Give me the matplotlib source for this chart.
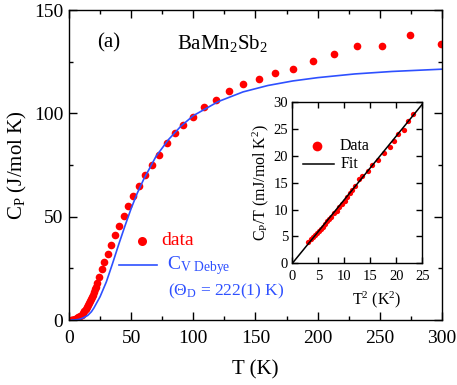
import numpy as np
import matplotlib
matplotlib.use('Agg')
import matplotlib.pyplot as plt
from matplotlib.ticker import MultipleLocator

plt.rcParams['font.family'] = ['Liberation Serif', 'DejaVu Serif']
plt.rcParams['mathtext.fontset'] = 'stix'
plt.rcParams['mathtext.default'] = 'regular'

# heat capacity data, main panel
T_data = [1.8, 2.2, 2.6, 3.0, 3.5, 4.0, 4.8, 5.5, 6.4, 7.5, 8.8, 10.2, 11.3, 12.3,
          13.4, 14.5, 15.3, 16.1, 16.9, 17.7, 18.5, 19.3, 20.1, 20.9, 21.7, 22.5,
          24.1, 26.2, 28.4, 31.1, 33.8, 37.0, 40.2, 44.0, 47.2, 51.6, 56.6, 61.4,
          66.8, 72.6, 79.0, 85.5, 91.9, 100.0, 109.0, 118.2, 128.6, 140.2, 152.5,
          165.9, 179.8, 195.9, 213.3, 231.8, 251.9, 274.7, 299.6]
Cp_data = [0.0, 0.0, 0.03, 0.05, 0.08, 0.12, 0.3, 0.5, 0.9, 1.3, 1.9, 2.6, 3.4, 4.2,
           5.1, 6.1, 7.1, 8.1, 9.1, 10.1, 11.2, 12.3, 13.5, 14.8, 16.2, 17.7,
           21.0, 24.5, 28.1, 31.9, 36.4, 41.0, 45.5, 50.3, 55.2, 60.0, 64.8, 70.3,
           75.2, 80.0, 85.5, 90.3, 94.2, 98.4, 102.9, 106.5, 110.6, 114.2, 116.6,
           119.4, 121.6, 125.2, 128.7, 132.7, 132.6, 137.9, 133.5]

# Debye curve
T_deb = [2, 5, 8, 10, 12, 15, 18, 20, 25, 30, 35, 40, 45, 50, 55, 60, 70, 80, 90,
         100, 120, 140, 160, 180, 200, 230, 260, 300]
Cv_deb = [0.0, 0.05, 0.3, 0.7, 1.2, 2.2, 4.0, 5.8, 11.3, 18.4, 27.3, 36.6, 45.5,
          54.0, 61.5, 68.0, 79.2, 87.3, 93.8, 98.9, 105.7, 110.4, 113.5, 115.7,
          117.3, 119.1, 120.3, 121.4]

# inset: Cp/T vs T^2
T2_in = [3.08, 3.53, 3.91, 4.30, 4.68, 5.07, 5.45, 5.84, 6.22, 6.73, 7.12, 7.5,
         8.02, 8.53, 9.04, 9.56, 10.07, 10.58, 11.1, 11.48, 12.12, 12.88, 13.4,
         14.5, 15.3, 16.5, 17.7, 18.7, 19.5, 20.3, 21.4, 22.2, 23.3]
CpT_in = [4.02, 4.47, 4.90, 5.33, 5.70, 6.07, 6.45, 6.82, 7.32, 7.93, 8.31, 8.68,
          9.31, 9.8, 10.43, 11.04, 11.66, 12.29, 13.15, 13.65, 14.39, 15.64, 16.3,
          17.2, 18.2, 19.2, 20.5, 21.6, 22.7, 24.1, 24.8, 26.4, 27.7]
T2_fit = [0, 25]
CpT_fit = [0, 29.6]

red = '#ff0000'
blue = '#2e50ff'

fig = plt.figure(figsize=(4.57, 3.85), dpi=100)
ax = fig.add_axes([0.151, 0.1688, 0.816, 0.805])

ax.plot(T_data, Cp_data, 'o', color=red, ms=5.5, mec='none')
ax.plot(T_deb, Cv_deb, '-', color=blue, lw=1.2)

ax.set_xlim(0, 300)
ax.set_ylim(0, 150)
ax.xaxis.set_major_locator(MultipleLocator(50))
ax.xaxis.set_minor_locator(MultipleLocator(25))
ax.yaxis.set_major_locator(MultipleLocator(50))
ax.yaxis.set_minor_locator(MultipleLocator(25))
ax.tick_params(which='both', direction='in', top=True, right=True, width=1)
ax.tick_params(which='major', length=6, labelsize=14)
ax.tick_params(axis='x', which='major', pad=7)
ax.tick_params(axis='y', which='major', pad=4)
ax.tick_params(which='minor', length=3)
for s in ax.spines.values():
    s.set_linewidth(1)
ax.set_xlabel('T (K)', fontsize=15, labelpad=10)
ax.set_ylabel(r'C$_{P}$ (J/mol K)', fontsize=15)

ax.text(32, 134, '(a)', fontsize=15, ha='center', va='center')
ax.text(87, 134, r'BaMn$_{2}$Sb$_{2}$', fontsize=15, ha='left', va='center')

# hand made legend
ax.plot([58.4], [38.4], 'o', color=red, ms=6.5, mec='none')
ax.text(74.5, 38.4, 'data', color=red, fontsize=14, va='center')
ax.plot([40.5, 70.5], [26.6, 26.6], '-', color=blue, lw=1.2)
ax.text(78.5, 26.6, r'C$_{V\ Debye}$', color=blue, fontsize=14, va='center')
ax.text(79.8, 13.7, r'($\Theta_{D}$ = 222(1) K)', color=blue, fontsize=12.5, va='center')

# inset
axi = fig.add_axes([0.6396, 0.316, 0.2845, 0.419])
axi.plot(T2_in, CpT_in, 'o', color=red, ms=3.8, mec='none')
axi.plot(T2_fit, CpT_fit, '-', color='black', lw=1.1)
axi.set_xlim(0, 25)
axi.set_ylim(0, 30)
axi.xaxis.set_major_locator(MultipleLocator(5))
axi.yaxis.set_major_locator(MultipleLocator(5))
axi.tick_params(which='both', direction='in', top=True, right=True, width=1,
                length=4, labelsize=10.5, pad=3)
axi.tick_params(axis='x', pad=5)
for s in axi.spines.values():
    s.set_linewidth(1)
axi.set_xlabel(r'T$^{2}$ (K$^{2}$)', fontsize=11.5)
axi.xaxis.set_label_coords(0.65, -0.165)
axi.set_ylabel(r'C$_{P}$/T (mJ/mol K$^{2}$)', fontsize=11.5, labelpad=2)

axi.plot([4.8], [21.9], 'o', color=red, ms=7, mec='none')
axi.text(9.0, 21.9, 'Data', fontsize=11.5, va='center')
axi.plot([2.0, 8.0], [18.5, 18.5], '-', color='black', lw=1.1)
axi.text(9.2, 18.5, 'Fit', fontsize=11.5, va='center')

plt.savefig('out.png', dpi=100)
